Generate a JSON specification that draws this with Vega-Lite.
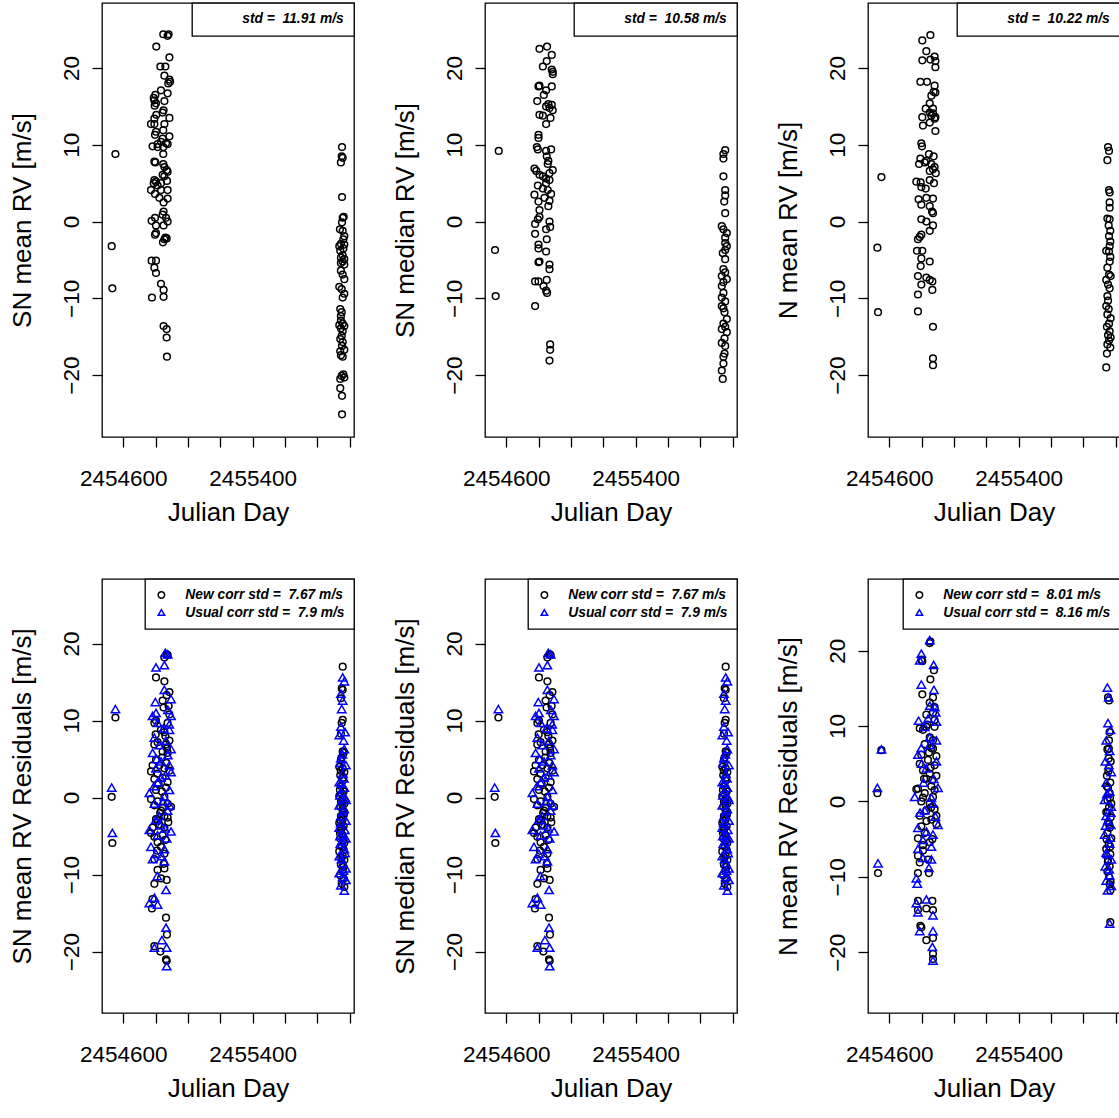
{
"$schema":"https://vega.github.io/schema/vega-lite/v6.json",
"background":"white",
"padding":{"left":8,"top":1,"right":0,"bottom":0},
"autosize":{"type":"pad"},
"config":{
 "font":"Liberation Sans",
 "view":{"stroke":"black","strokeWidth":1.3},
 "axis":{"domain":false,"grid":false,"tickColor":"black","tickWidth":1.3,"tickSize":10,"labelColor":"black","labelFontSize":22.5,"titleFontSize":26,"titleFontWeight":"normal","titleColor":"black","labelFlush":false,"labelOverlap":false,"labelFont":"Liberation Sans","titleFont":"Liberation Sans"},
 "axisX":{"labelBaseline":"alphabetic","labelPadding":38,"minExtent":50,"maxExtent":50,"titleBaseline":"alphabetic","titlePadding":33},
 "axisY":{"labelAngle":-90,"labelAlign":"center","labelBaseline":"alphabetic","labelPadding":14,"minExtent":50,"maxExtent":50,"titleBaseline":"alphabetic","titlePadding":22},
 "legend":{"orient":"top-right","offset":0,"strokeColor":"black","strokeWidth":1.3,"fillColor":"white","labelFont":"Liberation Sans","labelFontSize":13.8,"labelFontStyle":"italic","labelFontWeight":"bold","labelColor":"black","labelLimit":400,"symbolSize":42,"symbolStrokeWidth":1.5}
},
"datasets":{
"p1":[
{"jd":2454528,"rv":-3.2},{"jd":2454532,"rv":-8.7},{"jd":2454551,"rv":8.8},
{"jd":2454847,"rv":24.4},{"jd":2454880,"rv":24.4},{"jd":2454874,"rv":24.2},{"jd":2454804,"rv":22.8},{"jd":2454885,"rv":21.4},{"jd":2454829,"rv":20.2},{"jd":2454860,"rv":20.2},{"jd":2454854,"rv":19.0},{"jd":2454885,"rv":18.5},{"jd":2454889,"rv":18.2},{"jd":2454878,"rv":18.0},{"jd":2454833,"rv":17.1},{"jd":2454874,"rv":16.7},{"jd":2454798,"rv":16.5},{"jd":2454788,"rv":16.1},{"jd":2454792,"rv":15.8},{"jd":2454802,"rv":15.4},{"jd":2454794,"rv":15.1},{"jd":2454854,"rv":15.7},{"jd":2454849,"rv":14.5},{"jd":2454843,"rv":14.2},{"jd":2454804,"rv":13.9},{"jd":2454885,"rv":13.5},{"jd":2454792,"rv":13.4},{"jd":2454771,"rv":12.7},{"jd":2454792,"rv":12.7},{"jd":2454854,"rv":12.7},{"jd":2454847,"rv":11.9},{"jd":2454802,"rv":11.7},{"jd":2454796,"rv":11.3},{"jd":2454885,"rv":11.1},{"jd":2454843,"rv":10.8},{"jd":2454833,"rv":10.4},{"jd":2454864,"rv":10.2},{"jd":2454874,"rv":10.1},{"jd":2454812,"rv":10.1},{"jd":2454781,"rv":9.8},{"jd":2454812,"rv":9.7},{"jd":2454847,"rv":9.7},{"jd":2454847,"rv":8.8},{"jd":2454792,"rv":7.8},{"jd":2454798,"rv":7.7},{"jd":2454847,"rv":7.5},{"jd":2454854,"rv":7.1},{"jd":2454868,"rv":6.7},{"jd":2454874,"rv":6.5},{"jd":2454843,"rv":6.1},{"jd":2454854,"rv":5.9},{"jd":2454792,"rv":5.4},{"jd":2454802,"rv":5.2},{"jd":2454870,"rv":5.3},{"jd":2454833,"rv":5.0},{"jd":2454788,"rv":5.0},{"jd":2454812,"rv":4.7},{"jd":2454771,"rv":4.1},{"jd":2454874,"rv":4.1},{"jd":2454833,"rv":4.1},{"jd":2454796,"rv":3.6},{"jd":2454823,"rv":3.1},{"jd":2454874,"rv":3.0},{"jd":2454849,"rv":2.5},{"jd":2454849,"rv":1.3},{"jd":2454843,"rv":0.9},{"jd":2454864,"rv":0.5},{"jd":2454796,"rv":0.5},{"jd":2454775,"rv":0.1},{"jd":2454874,"rv":0.0},{"jd":2454849,"rv":-0.5},{"jd":2454802,"rv":-0.5},{"jd":2454802,"rv":-1.5},{"jd":2454796,"rv":-1.7},{"jd":2454860,"rv":-2.1},{"jd":2454854,"rv":-2.3},{"jd":2454868,"rv":-2.2},{"jd":2454845,"rv":-2.7},{"jd":2454775,"rv":-5.1},{"jd":2454802,"rv":-5.1},{"jd":2454792,"rv":-6.0},{"jd":2454802,"rv":-6.7},{"jd":2454833,"rv":-8.1},{"jd":2454849,"rv":-8.9},{"jd":2454777,"rv":-9.9},{"jd":2454849,"rv":-9.8},{"jd":2454849,"rv":-13.6},{"jd":2454868,"rv":-14.0},{"jd":2454868,"rv":-15.1},{"jd":2454870,"rv":-17.6},
{"jd":2455953,"rv":9.7},{"jd":2455951,"rv":8.5},{"jd":2455957,"rv":8.3},{"jd":2455946,"rv":7.7},{"jd":2455953,"rv":3.2},{"jd":2455963,"rv":0.6},{"jd":2455957,"rv":0.5},{"jd":2455953,"rv":-0.1},{"jd":2455940,"rv":-1.0},{"jd":2455957,"rv":-1.2},{"jd":2455967,"rv":-1.9},{"jd":2455961,"rv":-2.3},{"jd":2455946,"rv":-2.9},{"jd":2455967,"rv":-3.0},{"jd":2455936,"rv":-3.2},{"jd":2455961,"rv":-3.5},{"jd":2455942,"rv":-3.8},{"jd":2455957,"rv":-4.4},{"jd":2455946,"rv":-4.7},{"jd":2455967,"rv":-4.9},{"jd":2455957,"rv":-5.2},{"jd":2455946,"rv":-5.4},{"jd":2455967,"rv":-5.6},{"jd":2455946,"rv":-6.4},{"jd":2455957,"rv":-6.9},{"jd":2455967,"rv":-7.5},{"jd":2455936,"rv":-8.5},{"jd":2455951,"rv":-8.8},{"jd":2455967,"rv":-9.4},{"jd":2455957,"rv":-9.9},{"jd":2455942,"rv":-11.4},{"jd":2455951,"rv":-11.8},{"jd":2455946,"rv":-12.3},{"jd":2455946,"rv":-12.9},{"jd":2455957,"rv":-13.3},{"jd":2455936,"rv":-13.5},{"jd":2455967,"rv":-13.6},{"jd":2455946,"rv":-13.9},{"jd":2455957,"rv":-14.3},{"jd":2455951,"rv":-14.9},{"jd":2455942,"rv":-15.3},{"jd":2455957,"rv":-15.7},{"jd":2455953,"rv":-16.2},{"jd":2455967,"rv":-16.7},{"jd":2455942,"rv":-16.9},{"jd":2455946,"rv":-17.4},{"jd":2455957,"rv":-17.6},{"jd":2455961,"rv":-19.9},{"jd":2455951,"rv":-20.1},{"jd":2455967,"rv":-20.3},{"jd":2455942,"rv":-20.5},{"jd":2455942,"rv":-21.7},{"jd":2455953,"rv":-22.7},{"jd":2455953,"rv":-25.1}
],
"p2":[
{"jd":2454530,"rv":-3.7},{"jd":2454534,"rv":-9.7},{"jd":2454553,"rv":9.2},
{"jd":2454805,"rv":22.5},{"jd":2454852,"rv":22.8},{"jd":2454881,"rv":21.7},{"jd":2454850,"rv":20.9},{"jd":2454826,"rv":20.2},{"jd":2454881,"rv":19.8},{"jd":2454887,"rv":19.5},{"jd":2454887,"rv":19.2},{"jd":2454805,"rv":17.7},{"jd":2454799,"rv":17.6},{"jd":2454881,"rv":17.6},{"jd":2454846,"rv":17.1},{"jd":2454832,"rv":16.5},{"jd":2454791,"rv":15.7},{"jd":2454860,"rv":15.3},{"jd":2454881,"rv":15.2},{"jd":2454846,"rv":15.0},{"jd":2454867,"rv":14.8},{"jd":2454887,"rv":14.5},{"jd":2454805,"rv":13.9},{"jd":2454826,"rv":13.8},{"jd":2454873,"rv":13.5},{"jd":2454846,"rv":12.7},{"jd":2454799,"rv":11.3},{"jd":2454799,"rv":10.9},{"jd":2454789,"rv":9.7},{"jd":2454795,"rv":9.4},{"jd":2454877,"rv":9.4},{"jd":2454846,"rv":9.2},{"jd":2454850,"rv":8.5},{"jd":2454860,"rv":7.9},{"jd":2454856,"rv":7.5},{"jd":2454774,"rv":6.9},{"jd":2454785,"rv":6.6},{"jd":2454887,"rv":6.7},{"jd":2454867,"rv":6.3},{"jd":2454805,"rv":6.1},{"jd":2454826,"rv":5.9},{"jd":2454846,"rv":5.6},{"jd":2454867,"rv":5.4},{"jd":2454795,"rv":4.7},{"jd":2454846,"rv":5.0},{"jd":2454826,"rv":4.3},{"jd":2454856,"rv":4.1},{"jd":2454774,"rv":3.5},{"jd":2454877,"rv":3.6},{"jd":2454836,"rv":3.1},{"jd":2454867,"rv":2.7},{"jd":2454799,"rv":2.6},{"jd":2454860,"rv":2.0},{"jd":2454805,"rv":1.5},{"jd":2454805,"rv":0.6},{"jd":2454795,"rv":0.3},{"jd":2454867,"rv":0.0},{"jd":2454778,"rv":-0.3},{"jd":2454871,"rv":-0.7},{"jd":2454846,"rv":-1.0},{"jd":2454778,"rv":-1.6},{"jd":2454850,"rv":-2.3},{"jd":2454799,"rv":-3.0},{"jd":2454799,"rv":-3.5},{"jd":2454846,"rv":-3.9},{"jd":2454805,"rv":-5.2},{"jd":2454799,"rv":-5.3},{"jd":2454867,"rv":-5.6},{"jd":2454867,"rv":-6.2},{"jd":2454778,"rv":-7.8},{"jd":2454799,"rv":-7.8},{"jd":2454850,"rv":-7.6},{"jd":2454830,"rv":-8.4},{"jd":2454846,"rv":-9.0},{"jd":2454852,"rv":-9.3},{"jd":2454778,"rv":-11.0},{"jd":2454871,"rv":-16.0},{"jd":2454871,"rv":-16.7},{"jd":2454867,"rv":-18.1},
{"jd":2455954,"rv":9.3},{"jd":2455943,"rv":8.8},{"jd":2455943,"rv":8.2},{"jd":2455943,"rv":5.9},{"jd":2455954,"rv":4.1},{"jd":2455954,"rv":3.4},{"jd":2455948,"rv":2.6},{"jd":2455954,"rv":1.1},{"jd":2455933,"rv":-0.6},{"jd":2455943,"rv":-1.0},{"jd":2455964,"rv":-1.5},{"jd":2455954,"rv":-2.1},{"jd":2455954,"rv":-2.8},{"jd":2455964,"rv":-3.2},{"jd":2455954,"rv":-3.7},{"jd":2455939,"rv":-4.1},{"jd":2455954,"rv":-4.9},{"jd":2455943,"rv":-6.2},{"jd":2455954,"rv":-6.6},{"jd":2455933,"rv":-7.1},{"jd":2455964,"rv":-7.5},{"jd":2455943,"rv":-7.9},{"jd":2455933,"rv":-8.4},{"jd":2455943,"rv":-9.3},{"jd":2455933,"rv":-9.9},{"jd":2455954,"rv":-10.4},{"jd":2455933,"rv":-11.0},{"jd":2455943,"rv":-11.3},{"jd":2455950,"rv":-11.8},{"jd":2455964,"rv":-12.7},{"jd":2455943,"rv":-13.3},{"jd":2455954,"rv":-13.7},{"jd":2455933,"rv":-14.0},{"jd":2455964,"rv":-14.4},{"jd":2455950,"rv":-15.2},{"jd":2455933,"rv":-15.8},{"jd":2455954,"rv":-16.2},{"jd":2455950,"rv":-17.2},{"jd":2455943,"rv":-17.6},{"jd":2455943,"rv":-18.5},{"jd":2455933,"rv":-19.4},{"jd":2455939,"rv":-20.5}
],
"p3":[
{"jd":2454526,"rv":-3.4},{"jd":2454530,"rv":-11.8},{"jd":2454551,"rv":5.8},
{"jd":2454854,"rv":24.3},{"jd":2454804,"rv":23.6},{"jd":2454829,"rv":22.2},{"jd":2454804,"rv":21.0},{"jd":2454854,"rv":21.1},{"jd":2454880,"rv":21.5},{"jd":2454885,"rv":20.9},{"jd":2454885,"rv":20.1},{"jd":2454792,"rv":18.2},{"jd":2454833,"rv":18.2},{"jd":2454880,"rv":17.7},{"jd":2454874,"rv":16.9},{"jd":2454885,"rv":16.8},{"jd":2454860,"rv":16.4},{"jd":2454850,"rv":15.4},{"jd":2454825,"rv":14.7},{"jd":2454870,"rv":14.7},{"jd":2454850,"rv":14.2},{"jd":2454804,"rv":13.6},{"jd":2454870,"rv":14.1},{"jd":2454885,"rv":13.6},{"jd":2454860,"rv":13.8},{"jd":2454880,"rv":13.4},{"jd":2454850,"rv":12.9},{"jd":2454808,"rv":12.5},{"jd":2454885,"rv":11.8},{"jd":2454798,"rv":10.2},{"jd":2454802,"rv":9.8},{"jd":2454845,"rv":8.8},{"jd":2454874,"rv":8.5},{"jd":2454792,"rv":8.2},{"jd":2454829,"rv":7.9},{"jd":2454819,"rv":7.7},{"jd":2454784,"rv":7.5},{"jd":2454860,"rv":7.5},{"jd":2454880,"rv":7.1},{"jd":2454887,"rv":6.3},{"jd":2454850,"rv":6.6},{"jd":2454870,"rv":6.8},{"jd":2454767,"rv":5.2},{"jd":2454794,"rv":5.1},{"jd":2454850,"rv":5.4},{"jd":2454876,"rv":5.0},{"jd":2454798,"rv":4.5},{"jd":2454825,"rv":4.3},{"jd":2454781,"rv":2.9},{"jd":2454829,"rv":3.1},{"jd":2454870,"rv":3.0},{"jd":2454798,"rv":2.2},{"jd":2454850,"rv":2.0},{"jd":2454864,"rv":1.3},{"jd":2454870,"rv":1.1},{"jd":2454798,"rv":0.3},{"jd":2454829,"rv":0.0},{"jd":2454870,"rv":-0.5},{"jd":2454850,"rv":-1.2},{"jd":2454798,"rv":-1.7},{"jd":2454788,"rv":-2.0},{"jd":2454777,"rv":-2.3},{"jd":2454771,"rv":-3.8},{"jd":2454804,"rv":-3.8},{"jd":2454798,"rv":-4.8},{"jd":2454850,"rv":-5.2},{"jd":2454794,"rv":-5.8},{"jd":2454777,"rv":-7.1},{"jd":2454829,"rv":-7.3},{"jd":2454850,"rv":-7.6},{"jd":2454866,"rv":-7.8},{"jd":2454798,"rv":-8.2},{"jd":2454866,"rv":-8.9},{"jd":2454777,"rv":-9.5},{"jd":2454777,"rv":-11.7},{"jd":2454870,"rv":-13.7},{"jd":2454870,"rv":-17.8},{"jd":2454870,"rv":-18.7},
{"jd":2455953,"rv":9.7},{"jd":2455959,"rv":9.2},{"jd":2455949,"rv":8.0},{"jd":2455959,"rv":4.1},{"jd":2455963,"rv":3.8},{"jd":2455963,"rv":2.5},{"jd":2455963,"rv":1.8},{"jd":2455949,"rv":0.4},{"jd":2455963,"rv":0.3},{"jd":2455957,"rv":-0.5},{"jd":2455967,"rv":-1.2},{"jd":2455959,"rv":-1.9},{"jd":2455967,"rv":-2.6},{"jd":2455963,"rv":-3.2},{"jd":2455942,"rv":-3.8},{"jd":2455959,"rv":-3.9},{"jd":2455967,"rv":-4.6},{"jd":2455963,"rv":-5.2},{"jd":2455949,"rv":-6.0},{"jd":2455959,"rv":-6.9},{"jd":2455969,"rv":-7.1},{"jd":2455942,"rv":-7.6},{"jd":2455953,"rv":-8.2},{"jd":2455963,"rv":-8.7},{"jd":2455949,"rv":-9.7},{"jd":2455953,"rv":-10.3},{"jd":2455942,"rv":-11.0},{"jd":2455957,"rv":-11.4},{"jd":2455949,"rv":-12.1},{"jd":2455969,"rv":-12.6},{"jd":2455959,"rv":-13.3},{"jd":2455946,"rv":-13.7},{"jd":2455963,"rv":-14.3},{"jd":2455953,"rv":-14.8},{"jd":2455969,"rv":-15.1},{"jd":2455959,"rv":-15.5},{"jd":2455949,"rv":-16.0},{"jd":2455967,"rv":-16.4},{"jd":2455946,"rv":-17.2},{"jd":2455942,"rv":-19.0}
],
"r45":[
{"jd":2454528,"rv":0.1,"c":"n"},{"jd":2454532,"rv":-5.9,"c":"n"},{"jd":2454551,"rv":10.4,"c":"n"},
{"jd":2454868,"rv":18.6,"c":"n"},{"jd":2454854,"rv":18.2,"c":"n"},{"jd":2454874,"rv":18.5,"c":"n"},{"jd":2454802,"rv":15.6,"c":"n"},{"jd":2454854,"rv":15.1,"c":"n"},{"jd":2454885,"rv":13.7,"c":"n"},{"jd":2454868,"rv":13.3,"c":"n"},{"jd":2454843,"rv":12.6,"c":"n"},{"jd":2454849,"rv":11.7,"c":"n"},{"jd":2454885,"rv":10.8,"c":"n"},{"jd":2454802,"rv":10.0,"c":"n"},{"jd":2454874,"rv":9.7,"c":"n"},{"jd":2454792,"rv":9.7,"c":"n"},{"jd":2454833,"rv":8.8,"c":"n"},{"jd":2454854,"rv":8.5,"c":"n"},{"jd":2454885,"rv":7.4,"c":"n"},{"jd":2454812,"rv":7.2,"c":"n"},{"jd":2454864,"rv":6.9,"c":"n"},{"jd":2454792,"rv":6.9,"c":"n"},{"jd":2454843,"rv":6.0,"c":"n"},{"jd":2454874,"rv":5.8,"c":"n"},{"jd":2454802,"rv":4.9,"c":"n"},{"jd":2454781,"rv":4.2,"c":"n"},{"jd":2454823,"rv":4.2,"c":"n"},{"jd":2454854,"rv":3.8,"c":"n"},{"jd":2454771,"rv":3.4,"c":"n"},{"jd":2454885,"rv":3.5,"c":"n"},{"jd":2454812,"rv":3.1,"c":"n"},{"jd":2454843,"rv":2.6,"c":"n"},{"jd":2454792,"rv":2.4,"c":"n"},{"jd":2454874,"rv":2.0,"c":"n"},{"jd":2454864,"rv":1.3,"c":"n"},{"jd":2454802,"rv":1.0,"c":"n"},{"jd":2454771,"rv":-0.2,"c":"n"},{"jd":2454854,"rv":0.1,"c":"n"},{"jd":2454812,"rv":-0.5,"c":"n"},{"jd":2454792,"rv":-1.0,"c":"n"},{"jd":2454874,"rv":-0.8,"c":"n"},{"jd":2454895,"rv":-1.2,"c":"n"},{"jd":2454833,"rv":-1.7,"c":"n"},{"jd":2454854,"rv":-2.4,"c":"n"},{"jd":2454874,"rv":-2.6,"c":"n"},{"jd":2454802,"rv":-2.8,"c":"n"},{"jd":2454823,"rv":-3.5,"c":"n"},{"jd":2454781,"rv":-3.9,"c":"n"},{"jd":2454854,"rv":-3.9,"c":"n"},{"jd":2454771,"rv":-4.6,"c":"n"},{"jd":2454792,"rv":-5.1,"c":"n"},{"jd":2454843,"rv":-4.9,"c":"n"},{"jd":2454812,"rv":-5.8,"c":"n"},{"jd":2454833,"rv":-6.4,"c":"n"},{"jd":2454854,"rv":-7.3,"c":"n"},{"jd":2454792,"rv":-8.0,"c":"n"},{"jd":2454812,"rv":-9.4,"c":"n"},{"jd":2454854,"rv":-9.2,"c":"n"},{"jd":2454833,"rv":-10.5,"c":"n"},{"jd":2454868,"rv":-10.7,"c":"n"},{"jd":2454792,"rv":-11.2,"c":"n"},{"jd":2454781,"rv":-13.2,"c":"n"},{"jd":2454777,"rv":-14.4,"c":"n"},{"jd":2454864,"rv":-15.6,"c":"n"},{"jd":2454870,"rv":-17.8,"c":"n"},{"jd":2454792,"rv":-19.3,"c":"n"},{"jd":2454829,"rv":-20.0,"c":"n"},{"jd":2454864,"rv":-21.0,"c":"n"},{"jd":2454868,"rv":-21.2,"c":"n"},
{"jd":2454860,"rv":8.0,"c":"n"},{"jd":2454840,"rv":5.2,"c":"n"},{"jd":2454866,"rv":4.5,"c":"n"},{"jd":2454818,"rv":1.8,"c":"n"},{"jd":2454845,"rv":-1.3,"c":"n"},{"jd":2454828,"rv":-2.0,"c":"n"},{"jd":2454878,"rv":-3.2,"c":"n"},{"jd":2454808,"rv":-6.9,"c":"n"},{"jd":2454860,"rv":-5.5,"c":"n"},{"jd":2454838,"rv":0.8,"c":"n"},{"jd":2454880,"rv":11.9,"c":"n"},{"jd":2454850,"rv":-8.6,"c":"n"},{"jd":2454800,"rv":8.2,"c":"n"},{"jd":2454870,"rv":6.4,"c":"n"},{"jd":2454815,"rv":-3.0,"c":"n"},
{"jd":2455957,"rv":17.0,"c":"n"},{"jd":2455951,"rv":14.2,"c":"n"},{"jd":2455957,"rv":14.0,"c":"n"},{"jd":2455946,"rv":12.9,"c":"n"},{"jd":2455957,"rv":10.1,"c":"n"},{"jd":2455951,"rv":9.7,"c":"n"},{"jd":2455946,"rv":8.3,"c":"n"},{"jd":2455957,"rv":6.0,"c":"n"},{"jd":2455963,"rv":5.8,"c":"n"},{"jd":2455946,"rv":4.9,"c":"n"},{"jd":2455936,"rv":4.0,"c":"n"},{"jd":2455957,"rv":3.8,"c":"n"},{"jd":2455967,"rv":3.3,"c":"n"},{"jd":2455942,"rv":2.9,"c":"n"},{"jd":2455957,"rv":2.2,"c":"n"},{"jd":2455946,"rv":1.5,"c":"n"},{"jd":2455963,"rv":0.8,"c":"n"},{"jd":2455936,"rv":0.2,"c":"n"},{"jd":2455957,"rv":-0.1,"c":"n"},{"jd":2455946,"rv":-0.5,"c":"n"},{"jd":2455967,"rv":-0.8,"c":"n"},{"jd":2455942,"rv":-1.2,"c":"n"},{"jd":2455957,"rv":-1.6,"c":"n"},{"jd":2455967,"rv":-1.9,"c":"n"},{"jd":2455946,"rv":-2.4,"c":"n"},{"jd":2455957,"rv":-2.8,"c":"n"},{"jd":2455936,"rv":-3.3,"c":"n"},{"jd":2455963,"rv":-3.7,"c":"n"},{"jd":2455946,"rv":-4.3,"c":"n"},{"jd":2455957,"rv":-4.9,"c":"n"},{"jd":2455942,"rv":-5.3,"c":"n"},{"jd":2455967,"rv":-5.9,"c":"n"},{"jd":2455951,"rv":-6.4,"c":"n"},{"jd":2455936,"rv":-7.0,"c":"n"},{"jd":2455957,"rv":-7.6,"c":"n"},{"jd":2455967,"rv":-8.1,"c":"n"},{"jd":2455946,"rv":-8.7,"c":"n"},{"jd":2455957,"rv":-9.4,"c":"n"},{"jd":2455942,"rv":-10.1,"c":"n"},{"jd":2455963,"rv":-10.5,"c":"n"},{"jd":2455951,"rv":-11.2,"c":"n"},{"jd":2455967,"rv":-11.6,"c":"n"},
{"jd":2455950,"rv":5.2,"c":"n"},{"jd":2455961,"rv":2.6,"c":"n"},{"jd":2455940,"rv":1.0,"c":"n"},{"jd":2455955,"rv":-1.0,"c":"n"},{"jd":2455944,"rv":-3.0,"c":"n"},{"jd":2455965,"rv":-2.2,"c":"n"},{"jd":2455951,"rv":-4.0,"c":"n"},{"jd":2455960,"rv":-5.6,"c":"n"},{"jd":2455940,"rv":-4.6,"c":"n"},{"jd":2455963,"rv":-6.8,"c":"n"},{"jd":2455948,"rv":-7.8,"c":"n"},{"jd":2455955,"rv":-0.5,"c":"n"},{"jd":2455945,"rv":3.5,"c":"n"},{"jd":2455962,"rv":-9.0,"c":"n"},{"jd":2455952,"rv":0.5,"c":"n"},
{"jd":2454528,"rv":1.3,"c":"u"},{"jd":2454532,"rv":-4.6,"c":"u"},{"jd":2454551,"rv":11.5,"c":"u"},
{"jd":2454860,"rv":18.8,"c":"u"},{"jd":2454874,"rv":18.6,"c":"u"},{"jd":2454854,"rv":17.2,"c":"u"},{"jd":2454802,"rv":16.9,"c":"u"},{"jd":2454854,"rv":14.0,"c":"u"},{"jd":2454798,"rv":12.4,"c":"u"},{"jd":2454895,"rv":12.8,"c":"u"},{"jd":2454802,"rv":11.0,"c":"u"},{"jd":2454781,"rv":10.6,"c":"u"},{"jd":2454895,"rv":10.6,"c":"u"},{"jd":2454812,"rv":9.7,"c":"u"},{"jd":2454885,"rv":8.8,"c":"u"},{"jd":2454792,"rv":7.8,"c":"u"},{"jd":2454864,"rv":7.4,"c":"u"},{"jd":2454895,"rv":6.3,"c":"u"},{"jd":2454781,"rv":5.8,"c":"u"},{"jd":2454833,"rv":4.7,"c":"u"},{"jd":2454885,"rv":4.2,"c":"u"},{"jd":2454802,"rv":3.8,"c":"u"},{"jd":2454895,"rv":3.3,"c":"u"},{"jd":2454833,"rv":2.6,"c":"u"},{"jd":2454812,"rv":2.0,"c":"u"},{"jd":2454885,"rv":1.0,"c":"u"},{"jd":2454761,"rv":0.6,"c":"u"},{"jd":2454854,"rv":0.1,"c":"u"},{"jd":2454792,"rv":-0.8,"c":"u"},{"jd":2454874,"rv":-1.7,"c":"u"},{"jd":2454823,"rv":-2.4,"c":"u"},{"jd":2454761,"rv":-4.2,"c":"u"},{"jd":2454895,"rv":-4.4,"c":"u"},{"jd":2454812,"rv":-4.9,"c":"u"},{"jd":2454868,"rv":-5.3,"c":"u"},{"jd":2454771,"rv":-6.4,"c":"u"},{"jd":2454854,"rv":-6.7,"c":"u"},{"jd":2454802,"rv":-7.3,"c":"u"},{"jd":2454781,"rv":-8.0,"c":"u"},{"jd":2454854,"rv":-8.3,"c":"u"},{"jd":2454864,"rv":-12.0,"c":"u"},{"jd":2454792,"rv":-13.0,"c":"u"},{"jd":2454761,"rv":-13.7,"c":"u"},{"jd":2454812,"rv":-13.9,"c":"u"},{"jd":2454864,"rv":-16.9,"c":"u"},{"jd":2454839,"rv":-18.5,"c":"u"},{"jd":2454792,"rv":-19.5,"c":"u"},{"jd":2454868,"rv":-19.5,"c":"u"},{"jd":2454868,"rv":-21.9,"c":"u"},
{"jd":2454848,"rv":9.0,"c":"u"},{"jd":2454822,"rv":6.8,"c":"u"},{"jd":2454875,"rv":5.5,"c":"u"},{"jd":2454806,"rv":5.0,"c":"u"},{"jd":2454860,"rv":2.9,"c":"u"},{"jd":2454790,"rv":1.5,"c":"u"},{"jd":2454845,"rv":-0.5,"c":"u"},{"jd":2454886,"rv":-1.0,"c":"u"},{"jd":2454830,"rv":-3.6,"c":"u"},{"jd":2454800,"rv":-2.9,"c":"u"},{"jd":2454858,"rv":-4.0,"c":"u"},{"jd":2454876,"rv":11.4,"c":"u"},{"jd":2454838,"rv":-7.6,"c":"u"},{"jd":2454884,"rv":9.5,"c":"u"},{"jd":2454810,"rv":-10.2,"c":"u"},
{"jd":2455957,"rv":15.6,"c":"u"},{"jd":2455967,"rv":15.1,"c":"u"},{"jd":2455946,"rv":13.5,"c":"u"},{"jd":2455957,"rv":12.6,"c":"u"},{"jd":2455951,"rv":11.5,"c":"u"},{"jd":2455946,"rv":9.2,"c":"u"},{"jd":2455936,"rv":8.1,"c":"u"},{"jd":2455963,"rv":7.4,"c":"u"},{"jd":2455967,"rv":6.3,"c":"u"},{"jd":2455946,"rv":5.1,"c":"u"},{"jd":2455977,"rv":4.2,"c":"u"},{"jd":2455957,"rv":3.1,"c":"u"},{"jd":2455936,"rv":2.0,"c":"u"},{"jd":2455967,"rv":1.3,"c":"u"},{"jd":2455946,"rv":0.7,"c":"u"},{"jd":2455977,"rv":-0.3,"c":"u"},{"jd":2455936,"rv":-1.0,"c":"u"},{"jd":2455967,"rv":-1.5,"c":"u"},{"jd":2455946,"rv":-2.4,"c":"u"},{"jd":2455977,"rv":-3.0,"c":"u"},{"jd":2455936,"rv":-3.9,"c":"u"},{"jd":2455957,"rv":-4.9,"c":"u"},{"jd":2455977,"rv":-5.3,"c":"u"},{"jd":2455942,"rv":-6.0,"c":"u"},{"jd":2455967,"rv":-6.7,"c":"u"},{"jd":2455936,"rv":-7.6,"c":"u"},{"jd":2455957,"rv":-8.5,"c":"u"},{"jd":2455977,"rv":-9.2,"c":"u"},{"jd":2455936,"rv":-9.8,"c":"u"},{"jd":2455957,"rv":-10.3,"c":"u"},{"jd":2455977,"rv":-10.7,"c":"u"},{"jd":2455946,"rv":-11.4,"c":"u"},{"jd":2455967,"rv":-12.1,"c":"u"},
{"jd":2455955,"rv":5.6,"c":"u"},{"jd":2455942,"rv":4.5,"c":"u"},{"jd":2455965,"rv":2.5,"c":"u"},{"jd":2455950,"rv":1.8,"c":"u"},{"jd":2455940,"rv":0.3,"c":"u"},{"jd":2455972,"rv":0.0,"c":"u"},{"jd":2455957,"rv":-1.8,"c":"u"},{"jd":2455945,"rv":-3.3,"c":"u"},{"jd":2455970,"rv":-4.2,"c":"u"},{"jd":2455952,"rv":-5.7,"c":"u"},{"jd":2455940,"rv":-5.0,"c":"u"},{"jd":2455972,"rv":-7.2,"c":"u"},{"jd":2455950,"rv":-8.0,"c":"u"},{"jd":2455962,"rv":-9.5,"c":"u"},{"jd":2455972,"rv":8.5,"c":"u"}
],
"r6":[
{"jd":2454526,"rv":1.1,"c":"n"},{"jd":2454530,"rv":-9.5,"c":"n"},{"jd":2454551,"rv":6.8,"c":"n"},
{"jd":2454854,"rv":21.2,"c":"n"},{"jd":2454850,"rv":21.0,"c":"n"},{"jd":2454804,"rv":18.6,"c":"n"},{"jd":2454798,"rv":18.8,"c":"n"},{"jd":2454854,"rv":16.2,"c":"n"},{"jd":2454876,"rv":17.4,"c":"n"},{"jd":2454804,"rv":14.2,"c":"n"},{"jd":2454870,"rv":13.8,"c":"n"},{"jd":2454850,"rv":13.1,"c":"n"},{"jd":2454880,"rv":12.5,"c":"n"},{"jd":2454870,"rv":11.8,"c":"n"},{"jd":2454829,"rv":11.5,"c":"n"},{"jd":2454880,"rv":10.8,"c":"n"},{"jd":2454788,"rv":9.7,"c":"n"},{"jd":2454808,"rv":9.5,"c":"n"},{"jd":2454880,"rv":9.9,"c":"n"},{"jd":2454829,"rv":9.9,"c":"n"},{"jd":2454850,"rv":8.5,"c":"n"},{"jd":2454870,"rv":8.1,"c":"n"},{"jd":2454819,"rv":7.6,"c":"n"},{"jd":2454860,"rv":7.1,"c":"n"},{"jd":2454891,"rv":6.0,"c":"n"},{"jd":2454798,"rv":6.2,"c":"n"},{"jd":2454839,"rv":5.5,"c":"n"},{"jd":2454788,"rv":5.0,"c":"n"},{"jd":2454880,"rv":4.8,"c":"n"},{"jd":2454808,"rv":4.1,"c":"n"},{"jd":2454850,"rv":3.7,"c":"n"},{"jd":2454891,"rv":3.4,"c":"n"},{"jd":2454829,"rv":3.0,"c":"n"},{"jd":2454860,"rv":2.0,"c":"n"},{"jd":2454777,"rv":1.7,"c":"n"},{"jd":2454767,"rv":1.6,"c":"n"},{"jd":2454819,"rv":1.1,"c":"n"},{"jd":2454870,"rv":0.6,"c":"n"},{"jd":2454798,"rv":0.0,"c":"n"},{"jd":2454850,"rv":-0.3,"c":"n"},{"jd":2454880,"rv":-1.0,"c":"n"},{"jd":2454829,"rv":-1.2,"c":"n"},{"jd":2454788,"rv":-1.9,"c":"n"},{"jd":2454891,"rv":-1.9,"c":"n"},{"jd":2454860,"rv":-2.4,"c":"n"},{"jd":2454891,"rv":-3.0,"c":"n"},{"jd":2454798,"rv":-3.3,"c":"n"},{"jd":2454819,"rv":-4.2,"c":"n"},{"jd":2454777,"rv":-4.9,"c":"n"},{"jd":2454850,"rv":-5.4,"c":"n"},{"jd":2454808,"rv":-5.8,"c":"n"},{"jd":2454777,"rv":-7.2,"c":"n"},{"jd":2454839,"rv":-7.7,"c":"n"},{"jd":2454788,"rv":-8.1,"c":"n"},{"jd":2454777,"rv":-9.5,"c":"n"},{"jd":2454845,"rv":-9.5,"c":"n"},{"jd":2454777,"rv":-13.2,"c":"n"},{"jd":2454866,"rv":-13.2,"c":"n"},{"jd":2454829,"rv":-14.2,"c":"n"},{"jd":2454870,"rv":-14.4,"c":"n"},{"jd":2454777,"rv":-14.4,"c":"n"},{"jd":2454792,"rv":-16.5,"c":"n"},{"jd":2454798,"rv":-16.7,"c":"n"},{"jd":2454870,"rv":-18.1,"c":"n"},{"jd":2454829,"rv":-18.4,"c":"n"},{"jd":2454870,"rv":-20.2,"c":"n"},{"jd":2454870,"rv":-20.9,"c":"n"},
{"jd":2454845,"rv":6.5,"c":"n"},{"jd":2454815,"rv":3.0,"c":"n"},{"jd":2454865,"rv":2.8,"c":"n"},{"jd":2454808,"rv":0.5,"c":"n"},{"jd":2454858,"rv":-0.8,"c":"n"},{"jd":2454830,"rv":-2.6,"c":"n"},{"jd":2454866,"rv":-5.0,"c":"n"},{"jd":2454808,"rv":-6.5,"c":"n"},{"jd":2454855,"rv":4.5,"c":"n"},{"jd":2454880,"rv":1.5,"c":"n"},{"jd":2454835,"rv":10.2,"c":"n"},{"jd":2454870,"rv":7.0,"c":"n"},
{"jd":2455953,"rv":13.8,"c":"n"},{"jd":2455959,"rv":13.4,"c":"n"},{"jd":2455963,"rv":9.2,"c":"n"},{"jd":2455959,"rv":8.1,"c":"n"},{"jd":2455949,"rv":6.9,"c":"n"},{"jd":2455957,"rv":5.7,"c":"n"},{"jd":2455969,"rv":5.3,"c":"n"},{"jd":2455959,"rv":4.4,"c":"n"},{"jd":2455946,"rv":3.4,"c":"n"},{"jd":2455967,"rv":2.5,"c":"n"},{"jd":2455953,"rv":1.8,"c":"n"},{"jd":2455963,"rv":1.1,"c":"n"},{"jd":2455949,"rv":0.2,"c":"n"},{"jd":2455973,"rv":-0.3,"c":"n"},{"jd":2455959,"rv":-0.8,"c":"n"},{"jd":2455942,"rv":-1.4,"c":"n"},{"jd":2455969,"rv":-2.1,"c":"n"},{"jd":2455953,"rv":-2.8,"c":"n"},{"jd":2455963,"rv":-3.5,"c":"n"},{"jd":2455949,"rv":-4.2,"c":"n"},{"jd":2455973,"rv":-4.9,"c":"n"},{"jd":2455957,"rv":-5.6,"c":"n"},{"jd":2455942,"rv":-6.3,"c":"n"},{"jd":2455967,"rv":-7.0,"c":"n"},{"jd":2455953,"rv":-7.7,"c":"n"},{"jd":2455963,"rv":-8.6,"c":"n"},{"jd":2455949,"rv":-9.3,"c":"n"},{"jd":2455959,"rv":-10.0,"c":"n"},{"jd":2455969,"rv":-10.7,"c":"n"},{"jd":2455967,"rv":-11.8,"c":"n"},{"jd":2455967,"rv":-16.0,"c":"n"},
{"jd":2455955,"rv":4.0,"c":"n"},{"jd":2455945,"rv":2.0,"c":"n"},{"jd":2455965,"rv":0.5,"c":"n"},{"jd":2455950,"rv":-1.5,"c":"n"},{"jd":2455960,"rv":-3.0,"c":"n"},{"jd":2455944,"rv":-5.0,"c":"n"},{"jd":2455966,"rv":-6.0,"c":"n"},{"jd":2455952,"rv":-8.0,"c":"n"},{"jd":2455958,"rv":7.0,"c":"n"},{"jd":2455963,"rv":-11.0,"c":"n"},
{"jd":2454526,"rv":1.8,"c":"u"},{"jd":2454530,"rv":-8.2,"c":"u"},{"jd":2454551,"rv":6.9,"c":"u"},
{"jd":2454850,"rv":21.4,"c":"u"},{"jd":2454798,"rv":19.6,"c":"u"},{"jd":2454788,"rv":18.7,"c":"u"},{"jd":2454874,"rv":18.1,"c":"u"},{"jd":2454798,"rv":15.5,"c":"u"},{"jd":2454876,"rv":14.8,"c":"u"},{"jd":2454850,"rv":12.7,"c":"u"},{"jd":2454887,"rv":11.8,"c":"u"},{"jd":2454781,"rv":10.7,"c":"u"},{"jd":2454891,"rv":10.6,"c":"u"},{"jd":2454819,"rv":9.9,"c":"u"},{"jd":2454850,"rv":8.5,"c":"u"},{"jd":2454891,"rv":8.1,"c":"u"},{"jd":2454798,"rv":7.1,"c":"u"},{"jd":2454777,"rv":6.2,"c":"u"},{"jd":2454891,"rv":5.3,"c":"u"},{"jd":2454829,"rv":4.4,"c":"u"},{"jd":2454901,"rv":1.8,"c":"u"},{"jd":2454757,"rv":0.6,"c":"u"},{"jd":2454870,"rv":-0.3,"c":"u"},{"jd":2454819,"rv":-1.2,"c":"u"},{"jd":2454901,"rv":-3.1,"c":"u"},{"jd":2454777,"rv":-3.5,"c":"u"},{"jd":2454870,"rv":-4.4,"c":"u"},{"jd":2454808,"rv":-5.1,"c":"u"},{"jd":2454777,"rv":-6.3,"c":"u"},{"jd":2454860,"rv":-7.7,"c":"u"},{"jd":2454845,"rv":-8.8,"c":"u"},{"jd":2454767,"rv":-10.2,"c":"u"},{"jd":2454773,"rv":-10.9,"c":"u"},{"jd":2454829,"rv":-13.0,"c":"u"},{"jd":2454767,"rv":-13.5,"c":"u"},{"jd":2454870,"rv":-15.1,"c":"u"},{"jd":2454777,"rv":-14.7,"c":"u"},{"jd":2454788,"rv":-17.2,"c":"u"},{"jd":2454870,"rv":-17.2,"c":"u"},{"jd":2454866,"rv":-19.3,"c":"u"},{"jd":2454870,"rv":-21.1,"c":"u"},
{"jd":2454850,"rv":7.5,"c":"u"},{"jd":2454800,"rv":5.0,"c":"u"},{"jd":2454875,"rv":3.0,"c":"u"},{"jd":2454812,"rv":2.5,"c":"u"},{"jd":2454860,"rv":0.5,"c":"u"},{"jd":2454790,"rv":-1.5,"c":"u"},{"jd":2454885,"rv":-2.0,"c":"u"},{"jd":2454830,"rv":-4.0,"c":"u"},{"jd":2454860,"rv":-6.0,"c":"u"},{"jd":2454808,"rv":-7.5,"c":"u"},{"jd":2454882,"rv":12.5,"c":"u"},{"jd":2454840,"rv":11.0,"c":"u"},
{"jd":2455949,"rv":15.1,"c":"u"},{"jd":2455957,"rv":13.8,"c":"u"},{"jd":2455953,"rv":10.4,"c":"u"},{"jd":2455942,"rv":8.1,"c":"u"},{"jd":2455963,"rv":6.7,"c":"u"},{"jd":2455936,"rv":5.3,"c":"u"},{"jd":2455973,"rv":3.9,"c":"u"},{"jd":2455942,"rv":2.5,"c":"u"},{"jd":2455963,"rv":1.3,"c":"u"},{"jd":2455932,"rv":0.2,"c":"u"},{"jd":2455973,"rv":-0.7,"c":"u"},{"jd":2455942,"rv":-1.9,"c":"u"},{"jd":2455969,"rv":-3.1,"c":"u"},{"jd":2455932,"rv":-4.4,"c":"u"},{"jd":2455963,"rv":-5.6,"c":"u"},{"jd":2455942,"rv":-6.8,"c":"u"},{"jd":2455973,"rv":-7.7,"c":"u"},{"jd":2455936,"rv":-8.6,"c":"u"},{"jd":2455963,"rv":-9.8,"c":"u"},{"jd":2455942,"rv":-10.5,"c":"u"},{"jd":2455973,"rv":-11.2,"c":"u"},{"jd":2455963,"rv":-16.2,"c":"u"},
{"jd":2455958,"rv":4.8,"c":"u"},{"jd":2455946,"rv":1.0,"c":"u"},{"jd":2455970,"rv":-1.5,"c":"u"},{"jd":2455952,"rv":-2.5,"c":"u"},{"jd":2455938,"rv":-3.2,"c":"u"},{"jd":2455966,"rv":-4.8,"c":"u"},{"jd":2455948,"rv":-7.0,"c":"u"},{"jd":2455960,"rv":-9.0,"c":"u"},{"jd":2455968,"rv":9.5,"c":"u"},{"jd":2455950,"rv":-11.8,"c":"u"}
]
},
"spacing":51,
"resolve":{"scale":{"color":"independent","shape":"independent"}},
"vconcat":[
{"hconcat":[
 {"width":252,"height":434,"data":{"name":"p1"},
  "mark":{"type":"point","filled":false,"size":45,"strokeWidth":1.5,"opacity":1},
  "encoding":{
   "x":{"field":"jd","type":"quantitative","scale":{"domain":[2454468,2456027],"nice":false,"zero":false},"axis":{"title":"Julian Day","values":[2454600,2454800,2455000,2455200,2455400,2455600,2455800,2456000],"format":"d","labelExpr":"datum.value == 2454600 || datum.value == 2455400 ? datum.label : ''"}},
   "y":{"field":"rv","type":"quantitative","scale":{"domain":[-28.06,28.47],"nice":false,"zero":false},"axis":{"title":"SN mean RV [m/s]","values":[-20,-10,0,10,20]}},
   "color":{"datum":"std = \u00a011.91 m/s","scale":{"range":["black"]},"legend":{"title":null,"padding":9.5,"symbolOpacity":0,"labelOffset":27}}}},
 {"width":252,"height":434,"data":{"name":"p2"},
  "mark":{"type":"point","filled":false,"size":45,"strokeWidth":1.5,"opacity":1},
  "encoding":{
   "x":{"field":"jd","type":"quantitative","scale":{"domain":[2454468,2456027],"nice":false,"zero":false},"axis":{"title":"Julian Day","values":[2454600,2454800,2455000,2455200,2455400,2455600,2455800,2456000],"format":"d","labelExpr":"datum.value == 2454600 || datum.value == 2455400 ? datum.label : ''"}},
   "y":{"field":"rv","type":"quantitative","scale":{"domain":[-28.06,28.47],"nice":false,"zero":false},"axis":{"title":"SN median RV [m/s]","values":[-20,-10,0,10,20]}},
   "color":{"datum":"std = \u00a010.58 m/s","scale":{"range":["black"]},"legend":{"title":null,"padding":9.5,"symbolOpacity":0,"labelOffset":27}}}},
 {"width":252,"height":434,"data":{"name":"p3"},
  "mark":{"type":"point","filled":false,"size":45,"strokeWidth":1.5,"opacity":1},
  "encoding":{
   "x":{"field":"jd","type":"quantitative","scale":{"domain":[2454468,2456027],"nice":false,"zero":false},"axis":{"title":"Julian Day","values":[2454600,2454800,2455000,2455200,2455400,2455600,2455800,2456000],"format":"d","labelExpr":"datum.value == 2454600 || datum.value == 2455400 ? datum.label : ''"}},
   "y":{"field":"rv","type":"quantitative","scale":{"domain":[-28.06,28.47],"nice":false,"zero":false},"axis":{"title":"N mean RV [m/s]","values":[-20,-10,0,10,20]}},
   "color":{"datum":"std = \u00a010.22 m/s","scale":{"range":["black"]},"legend":{"title":null,"padding":9.5,"symbolOpacity":0,"labelOffset":27}}}}
 ],"spacing":35,"resolve":{"scale":{"color":"independent","shape":"independent"}}},
{"hconcat":[
 {"width":252,"height":434,"data":{"name":"r45"},
  "mark":{"type":"point","filled":false,"strokeWidth":1.5,"opacity":1},
  "encoding":{
   "x":{"field":"jd","type":"quantitative","scale":{"domain":[2454468,2456027],"nice":false,"zero":false},"axis":{"title":"Julian Day","values":[2454600,2454800,2455000,2455200,2455400,2455600,2455800,2456000],"format":"d","labelExpr":"datum.value == 2454600 || datum.value == 2455400 ? datum.label : ''"}},
   "y":{"field":"rv","type":"quantitative","scale":{"domain":[-27.98,28.39],"nice":false,"zero":false},"axis":{"title":"SN mean RV Residuals [m/s]","values":[-20,-10,0,10,20]}},
   "size":{"condition":{"test":"datum.c == 'u'","value":70},"value":45},
   "color":{"field":"c","type":"nominal","scale":{"domain":["n","u"],"range":["black","#0000ff"]},"legend":{"title":null,"padding":9,"rowPadding":2.6,"symbolOffset":0.5,"labelOffset":17,"labelExpr":"datum.label == 'n' ? 'New corr std = \u00a07.67 m/s' : 'Usual corr std = \u00a07.9 m/s'"}},
   "shape":{"field":"c","type":"nominal","scale":{"domain":["n","u"],"range":["circle","triangle-up"]},"legend":{"title":null,"padding":9,"rowPadding":2.6,"symbolOffset":0.5,"labelOffset":17,"labelExpr":"datum.label == 'n' ? 'New corr std = \u00a07.67 m/s' : 'Usual corr std = \u00a07.9 m/s'"}}}},
 {"width":252,"height":434,"data":{"name":"r45"},
  "mark":{"type":"point","filled":false,"strokeWidth":1.5,"opacity":1},
  "encoding":{
   "x":{"field":"jd","type":"quantitative","scale":{"domain":[2454468,2456027],"nice":false,"zero":false},"axis":{"title":"Julian Day","values":[2454600,2454800,2455000,2455200,2455400,2455600,2455800,2456000],"format":"d","labelExpr":"datum.value == 2454600 || datum.value == 2455400 ? datum.label : ''"}},
   "y":{"field":"rv","type":"quantitative","scale":{"domain":[-27.98,28.39],"nice":false,"zero":false},"axis":{"title":"SN median RV Residuals [m/s]","values":[-20,-10,0,10,20]}},
   "size":{"condition":{"test":"datum.c == 'u'","value":70},"value":45},
   "color":{"field":"c","type":"nominal","scale":{"domain":["n","u"],"range":["black","#0000ff"]},"legend":{"title":null,"padding":9,"rowPadding":2.6,"symbolOffset":0.5,"labelOffset":17,"labelExpr":"datum.label == 'n' ? 'New corr std = \u00a07.67 m/s' : 'Usual corr std = \u00a07.9 m/s'"}},
   "shape":{"field":"c","type":"nominal","scale":{"domain":["n","u"],"range":["circle","triangle-up"]},"legend":{"title":null,"padding":9,"rowPadding":2.6,"symbolOffset":0.5,"labelOffset":17,"labelExpr":"datum.label == 'n' ? 'New corr std = \u00a07.67 m/s' : 'Usual corr std = \u00a07.9 m/s'"}}}},
 {"width":252,"height":434,"data":{"name":"r6"},
  "mark":{"type":"point","filled":false,"strokeWidth":1.5,"opacity":1},
  "encoding":{
   "x":{"field":"jd","type":"quantitative","scale":{"domain":[2454468,2456027],"nice":false,"zero":false},"axis":{"title":"Julian Day","values":[2454600,2454800,2455000,2455200,2455400,2455600,2455800,2456000],"format":"d","labelExpr":"datum.value == 2454600 || datum.value == 2455400 ? datum.label : ''"}},
   "y":{"field":"rv","type":"quantitative","scale":{"domain":[-28.06,29.5],"nice":false,"zero":false},"axis":{"title":"N mean RV Residuals [m/s]","values":[-20,-10,0,10,20]}},
   "size":{"condition":{"test":"datum.c == 'u'","value":70},"value":45},
   "color":{"field":"c","type":"nominal","scale":{"domain":["n","u"],"range":["black","#0000ff"]},"legend":{"title":null,"padding":9,"rowPadding":2.6,"symbolOffset":0.5,"labelOffset":17,"labelExpr":"datum.label == 'n' ? 'New corr std = \u00a08.01 m/s' : 'Usual corr std = \u00a08.16 m/s'"}},
   "shape":{"field":"c","type":"nominal","scale":{"domain":["n","u"],"range":["circle","triangle-up"]},"legend":{"title":null,"padding":9,"rowPadding":2.6,"symbolOffset":0.5,"labelOffset":17,"labelExpr":"datum.label == 'n' ? 'New corr std = \u00a08.01 m/s' : 'Usual corr std = \u00a08.16 m/s'"}}}}
 ],"spacing":35,"resolve":{"scale":{"color":"independent","shape":"independent"}}}
]
}
